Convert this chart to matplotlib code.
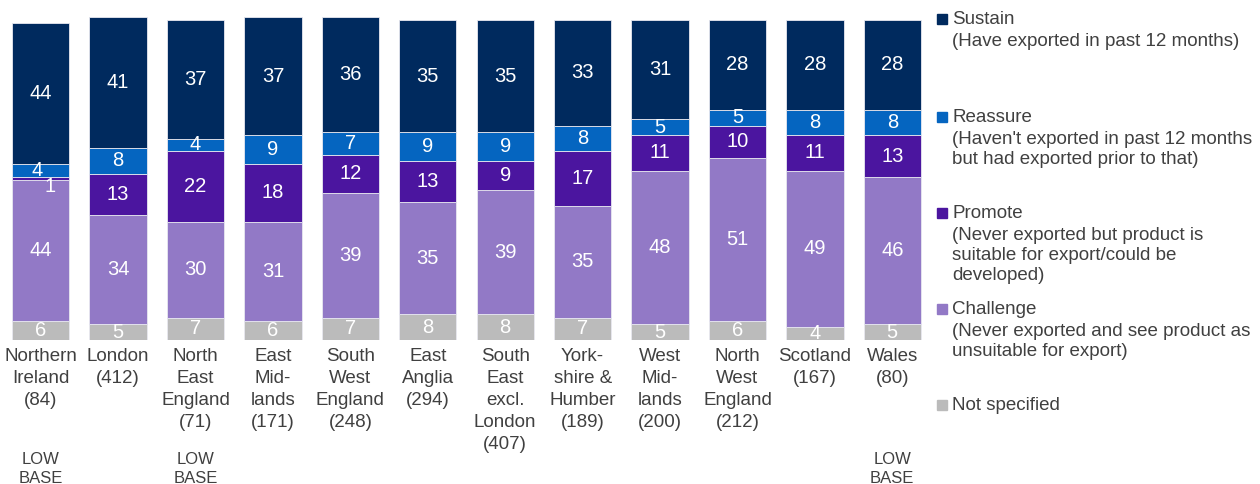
import matplotlib.pyplot as plt
from matplotlib.patches import Rectangle
import numpy as np

plt.rcParams['font.family'] = ['Liberation Sans', 'DejaVu Sans']

regions = ['Northern\nIreland\n(84)', 'London\n(412)', 'North\nEast\nEngland\n(71)',
           'East\nMid-\nlands\n(171)', 'South\nWest\nEngland\n(248)', 'East\nAnglia\n(294)',
           'South\nEast\nexcl.\nLondon\n(407)', 'York-\nshire &\nHumber\n(189)',
           'West\nMid-\nlands\n(200)', 'North\nWest\nEngland\n(212)', 'Scotland\n(167)',
           'Wales\n(80)']
low_base = [0, 2, 11]

not_specified = [6, 5, 7, 6, 7, 8, 8, 7, 5, 6, 4, 5]
challenge = [44, 34, 30, 31, 39, 35, 39, 35, 48, 51, 49, 46]
promote = [1, 13, 22, 18, 12, 13, 9, 17, 11, 10, 11, 13]
reassure = [4, 8, 4, 9, 7, 9, 9, 8, 5, 5, 8, 8]
sustain = [44, 41, 37, 37, 36, 35, 35, 33, 31, 28, 28, 28]

series = [not_specified, challenge, promote, reassure, sustain]
colors = ['#bbbbbb', '#9279c6', '#4b159f', '#0565c0', '#002a5e']

legend_items = [
    ('Sustain', '(Have exported in past 12 months)', '#002a5e'),
    ('Reassure', "(Haven't exported in past 12 months\nbut had exported prior to that)", '#0565c0'),
    ('Promote', '(Never exported but product is\nsuitable for export/could be\ndeveloped)', '#4b159f'),
    ('Challenge', '(Never exported and see product as\nunsuitable for export)', '#9279c6'),
    ('Not specified', '', '#bbbbbb'),
]
legend_y = [19, 117, 213, 309, 405]

W, H = 1260, 484
fig = plt.figure(figsize=(12.6, 4.84), dpi=100)
ax = fig.add_axes([2 / W, (H - 340) / H, 929 / W, 323 / H])

x = np.arange(len(regions))
bottom = np.zeros(len(regions))
for vals, c in zip(series, colors):
    vals = np.array(vals)
    ax.bar(x, vals, 0.74, bottom=bottom, color=c, edgecolor='#e8e8f0', linewidth=0.6)
    for i, v in enumerate(vals):
        dx, dy = 0, 0
        # the 4 and 1 of Northern Ireland are nudged apart in the original
        if i == 0 and v == 4 and c == '#0565c0':
            dx, dy = -0.05, 0
        if i == 0 and v == 1:
            dx, dy = 0.12, -2.5
        ax.text(i + dx, bottom[i] + v / 2 + dy, str(v), ha='center', va='center',
                color='white', fontsize=14.5)
    bottom += vals

ax.set_xlim(-0.5, 11.5)
ax.set_ylim(0, 101)
ax.axis('off')

for i, lab in enumerate(regions):
    ax.text(i, -2.4, lab, ha='center', va='top', fontsize=13.5, color='#404040',
            linespacing=1.39)
for i in low_base:
    fig.text((2 + 929 * (i + 0.5) / 12) / W, 1 - 452 / H, 'LOW\nBASE', ha='center',
             va='top', fontsize=12, color='#404040', linespacing=1.33)

for (name, desc, c), y in zip(legend_items, legend_y):
    fig.patches.append(Rectangle((937 / W, 1 - (y + 5) / H), 10 / W, 10 / H,
                                 transform=fig.transFigure, color=c))
    fig.text(952 / W, 1 - (y + 1) / H, name, ha='left', va='center', fontsize=13.5,
             color='#404040')
    if desc:
        fig.text(952 / W, 1 - (y + 14) / H, desc, ha='left', va='top', fontsize=13.5,
                 color='#404040', linespacing=1.25)

fig.savefig('out.png', dpi=100)
